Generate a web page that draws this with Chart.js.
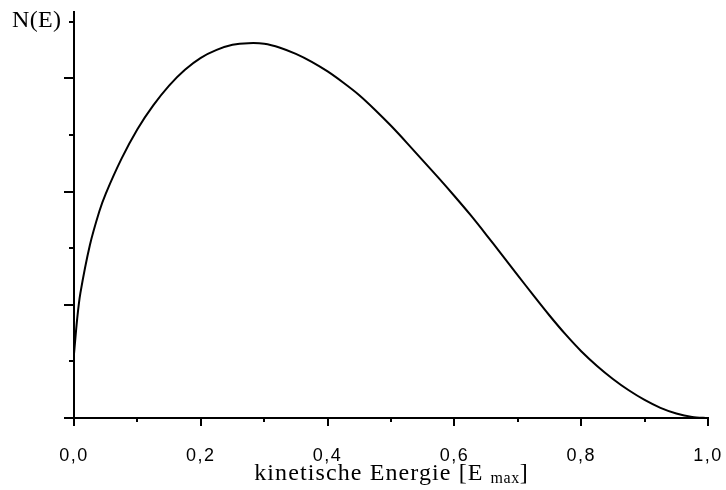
<!DOCTYPE html>
<html>
<head>
<meta charset="utf-8">
<script src="https://cdn.jsdelivr.net/npm/chart.js@4"></script>
<style>
  body { margin: 0; background: #fff; }
  .wrap { position: relative; width: 726px; height: 490px; }
  .lbl { position: absolute; font-family: "Liberation Serif", "Times New Roman", serif; color: #000; white-space: nowrap; }
  #ylab { left: 12px; top: 6px; font-size: 24px; letter-spacing: 0.3px; }
  #xlab { left: 0; width: 783px; text-align: center; top: 459px; font-size: 24px; letter-spacing: 1.1px; }
  #xlab sub { font-size: 16px; vertical-align: -3px; letter-spacing: 0.5px; }
</style>
</head>
<body>
<div class="wrap">
  <canvas id="chart" width="726" height="490"></canvas>
  <div class="lbl" id="ylab">N(E)</div>
  <div class="lbl" id="xlab">kinetische Energie [E <sub>max</sub>]</div>
</div>
<script>
// energy in units of E_max
const energy = [0, 0.005, 0.01, 0.025, 0.04, 0.05, 0.075, 0.1, 0.125, 0.15, 0.175, 0.2, 0.225, 0.25, 0.275, 0.3,
  0.325, 0.35, 0.375, 0.4, 0.425, 0.45, 0.475, 0.5, 0.525, 0.55, 0.575, 0.6, 0.625, 0.65, 0.675, 0.7,
  0.725, 0.75, 0.775, 0.8, 0.825, 0.85, 0.875, 0.9, 0.925, 0.95, 0.975, 1.0];
// N(E) (arbitrary units)
const counts = [1.13, 1.75, 2.2, 3.05, 3.65, 3.96, 4.58, 5.1, 5.52, 5.87, 6.15, 6.36, 6.5, 6.59, 6.62, 6.61,
  6.54, 6.43, 6.29, 6.12, 5.92, 5.7, 5.44, 5.16, 4.86, 4.55, 4.24, 3.92, 3.59, 3.24, 2.88, 2.52,
  2.16, 1.81, 1.48, 1.18, 0.92, 0.69, 0.49, 0.32, 0.18, 0.08, 0.02, 0];

const xTickValues = [0, 0.1, 0.2, 0.3, 0.4, 0.5, 0.6, 0.7, 0.8, 0.9, 1.0];
const xTickLabels = ['0,0', '', '0,2', '', '0,4', '', '0,6', '', '0,8', '', '1,0'];
const yTickValues = [0, 1, 2, 3, 4, 5, 6, 7];

const points = energy.map((e, i) => ({ x: e, y: counts[i] }));

// tick marks: long ones on labelled steps, short ones in between
const axisTicks = {
  id: 'axisTicks',
  beforeLayout(chart) {
    chart.ctx.letterSpacing = '1.5px';
  },
  afterDraw(chart) {
    const { ctx, scales: { x, y } } = chart;
    ctx.save();
    ctx.strokeStyle = '#000';
    ctx.lineWidth = 2;
    ctx.beginPath();
    xTickValues.forEach((v, i) => {
      const px = Math.round(x.getPixelForValue(v));
      const len = i % 2 === 0 ? 8 : 4;
      ctx.moveTo(px, y.bottom);
      ctx.lineTo(px, y.bottom + len);
    });
    yTickValues.forEach((v, i) => {
      const py = Math.round(y.getPixelForValue(v));
      const len = i % 2 === 0 ? 10 : 5;
      ctx.moveTo(x.left, py);
      ctx.lineTo(x.left - len, py);
    });
    ctx.stroke();
    ctx.restore();
  }
};

const ctx = document.getElementById('chart').getContext('2d');

const chart = new Chart(ctx, {
  type: 'line',
  data: {
    datasets: [{
      data: points,
      borderColor: '#000',
      borderWidth: 2,
      pointRadius: 0,
      fill: false,
      tension: 0.3
    }]
  },
  options: {
    responsive: false,
    animation: false,
    layout: { padding: { top: 12, right: 18, left: 0, bottom: 0 } },
    plugins: { legend: { display: false }, tooltip: { enabled: false } },
    scales: {
      x: {
        type: 'linear',
        min: 0,
        max: 1,
        afterFit: s => { s.height = 72; s.paddingLeft = 0; s.paddingRight = 0; },
        afterBuildTicks: s => { s.ticks = xTickValues.map(v => ({ value: v })); },
        grid: { display: false },
        border: { display: true, color: '#000', width: 2 },
        ticks: {
          autoSkip: false,
          maxRotation: 0,
          padding: 19,
          color: '#000',
          font: { family: '"Liberation Sans", Arial, sans-serif', size: 18 },
          callback: (v, i) => xTickLabels[i]
        }
      },
      y: {
        type: 'linear',
        min: 0,
        max: 7.17,
        afterFit: s => { s.width = 74; },
        grid: { display: false },
        border: { display: true, color: '#000', width: 2 },
        ticks: { display: false, stepSize: 1 }
      }
    }
  },
  plugins: [axisTicks]
});
</script>
</body>
</html>
